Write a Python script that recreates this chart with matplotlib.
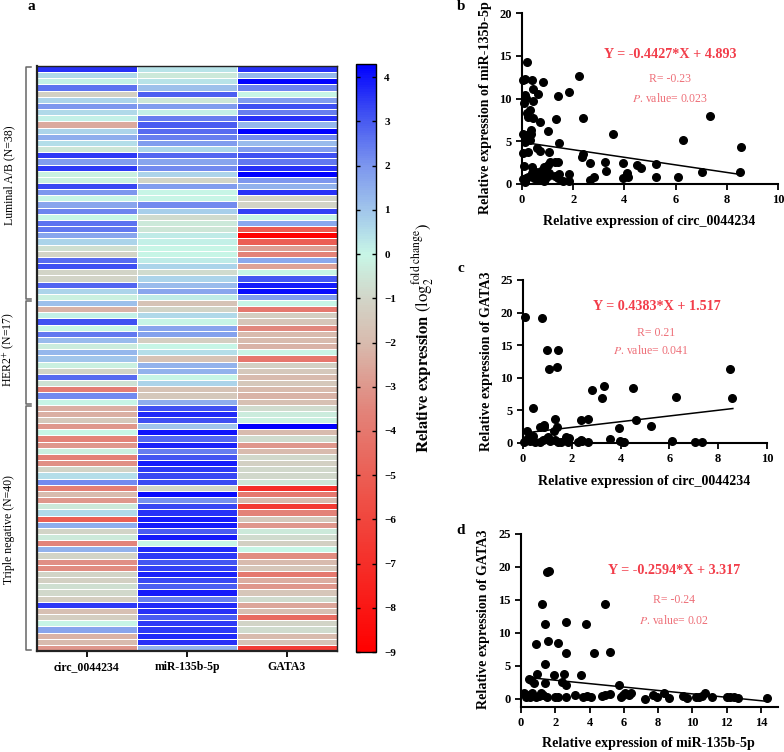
import numpy as np
import matplotlib
matplotlib.use('Agg')
import matplotlib.pyplot as plt
from matplotlib.colors import LinearSegmentedColormap

plt.rcParams['font.family'] = ['Liberation Serif', 'DejaVu Serif']
plt.rcParams['mathtext.fontset'] = 'stix'

# Heatmap values, top row first
genes = ['circ_0044234', 'miR-135b-5p', 'GATA3']
circ_vals = [3.6, 0.6, 0.1, 2.6, -1.2, 0.7, 2.0, 0.6, 0.1, -2.5, 0.7, 1.5, 0.5, -0.5, 3.5, 1.9, 3.5, -0.2, -0.2, 3.3,
             2.0, 0.0, 1.7, 2.3, 0.0, 2.6, 2.5, 1.7, 0.7, -0.7, -1.0, 2.7, 3.2, -1.0, -1.0, 2.8, 0.7, -0.2, 1.1, -2.2,
             0.1, 3.2, 0.0, 2.5, 1.2, -0.3, 1.3, 1.0, -0.2, -1.0, 2.7, -0.6, -3.8, 2.2, 0.0, -2.3, -2.3, -1.5, -3.0, 0.0,
             -3.6, -3.0, -0.2, -3.7, -3.2, -1.0, 0.5, 2.2, -3.8, -2.0, -3.0, -0.4, 0.6, -5.0, 1.5, -1.0, -0.4, -3.5, 1.4, -1.0,
             -3.2, -3.3, -1.0, -1.2, -0.7, -0.9, -1.3, 3.5, -1.8, -1.3, 0.0, 1.7, -2.2, -2.0, -3.0]
mir_vals = [0.4, -0.4, 0.4, 1.1, 2.9, -0.5, 1.9, 0.1, 2.4, 3.0, 2.7, 2.4, 1.9, 0.7, 2.8, 1.7, 2.2, 0.7, -1.0, 1.9,
            0.0, 0.0, 2.2, 0.8, -0.8, -0.4, -0.5, 0.2, 0.1, 0.0, 0.0, 0.2, 0.7, -0.8, 0.7, 1.2, 1.7, 0.2, -1.7, -1.0,
            0.6, 0.0, 1.7, 1.8, -1.3, 0.0, 0.5, -1.7, 1.4, 1.4, 0.0, 0.7, -1.7, -1.5, 1.5, 3.2, 3.7, 3.2, 1.0, 4.0,
            2.8, 3.8, 2.4, 3.1, 3.9, 3.5, 3.3, 3.3, -1.0, 4.1, 2.1, 3.3, 3.6, 3.9, 3.9, 3.0, 3.9, 0.0, 3.7, 3.5,
            3.1, 3.4, 3.8, 3.3, 2.9, 3.9, 2.4, 3.7, 3.6, 3.0, 3.5, 3.5, 3.7, 3.6, 1.4]
gata_vals = [3.6, 1.3, 4.2, 2.3, 0.0, 1.9, 3.2, 2.4, 3.6, 1.3, 4.3, 2.2, 1.2, 1.9, 3.2, 2.5, 3.6, 4.3, 2.0, 1.4,
             3.6, -1.0, -1.0, 3.4, 0.0, 1.6, -5.2, -9.0, -5.0, -2.8, -3.6, 1.6, -2.7, 0.0, 3.1, 3.9, 4.1, 1.9, 0.0, -4.0,
             -1.3, -1.6, -3.4, -2.0, -2.0, -2.2, -0.1, -4.1, -1.2, -1.5, -2.0, -1.5, -2.0, -2.2, -1.8, -0.8, -0.3, -0.2, 4.3, -2.0,
             -0.8, -3.0, -2.0, -0.9, -1.2, -0.9, -0.9, -0.5, -7.0, -4.0, -2.0, -6.5, -3.6, -1.5, -3.0, -0.4, -0.8, -1.2, 0.0, -3.3,
             -2.0, -1.6, -4.0, -2.4, -3.0, -1.6, -0.8, -2.6, -1.8, -4.5, -1.0, -0.8, -2.0, -1.7, -6.5]
group_names = ['Luminal A/B (N=38)', 'HER2$^{+}$ (N=17)', 'Triple negative (N=40)']
group_sizes = [38, 17, 40]
cbar_ticks = [4, 3, 2, 1, 0, -1, -2, -3, -4, -5, -6, -7, -8, -9]

# Scatter b: circ_0044234 vs miR-135b-5p
b_x = [0.05, 0.1, 0.2, 0.38, 0.42, 0.1, 0.15, 0.62, 0.82, 0.42, 0.07, 1.4, 1.85, 2.23, 0.3, 0.2, 0.25, 0.42, 0.7, 1.33,
       2.37, 7.35, 3.55, 6.27, 8.57, 1.03, 0.35, 0.05, 0.2, 0.35, 0.3, 0.1, 1.43, 0.6, 0.7, 0.05, 0.25, 1.05, 2.38, 2.35,
       2.65, 3.25, 3.95, 4.5, 4.65, 5.23, 0.07, 0.4, 0.85, 1.0, 1.1, 1.3, 1.42, 0.95, 0.75, 0.55, 0.4, 0.65, 0.85, 1.05,
       1.45, 1.85, 3.28, 4.1, 7.05, 8.5, 0.05, 0.15, 0.25, 0.45, 0.6, 0.9, 1.0, 1.3, 1.4, 1.6, 1.85, 2.65, 2.8, 3.95,
       4.15, 5.25, 6.1, 0.85, 0.1]
b_y = [12.2, 12.3, 14.3, 12.2, 11.1, 10.4, 10.1, 10.5, 11.9, 9.7, 9.5, 10.3, 10.8, 12.6, 8.6, 8.3, 7.8, 7.7, 7.2, 7.6,
       7.7, 7.9, 5.9, 5.1, 4.3, 6.2, 6.3, 5.8, 5.7, 5.8, 5.1, 4.9, 4.8, 4.2, 3.9, 3.6, 3.8, 3.7, 3.5, 3.1,
       2.5, 2.6, 2.5, 2.2, 1.9, 2.3, 2.1, 2.0, 2.0, 2.2, 2.6, 2.6, 2.6, 1.6, 1.5, 1.4, 1.3, 1.0, 1.2, 1.3,
       1.2, 1.2, 1.5, 1.3, 1.4, 1.4, 0.6, 0.7, 0.8, 0.7, 0.6, 0.6, 0.9, 0.9, 0.7, 0.3, 0.3, 0.5, 0.8, 0.7,
       0.8, 0.8, 0.85, 0.3, 0.2]

# Scatter c: circ_0044234 vs GATA3
c_x = [0.1, 0.77, 0.98, 1.43, 1.05, 1.4, 8.5, 8.57, 2.83, 3.3, 3.25, 4.5, 6.28, 0.4, 1.33, 2.38, 2.65, 3.95, 4.65, 5.23,
       0.7, 0.87, 0.87, 1.4, 1.25, 0.17, 0.05, 0.12, 0.2, 0.28, 0.35, 0.42, 0.5, 0.68, 0.8, 0.95, 1.02, 1.1, 1.3, 1.45,
       1.55, 1.75, 1.85, 1.9, 2.25, 2.38, 2.42, 2.68, 3.55, 3.98, 4.1, 4.15, 6.1, 7.05, 7.35]
c_y = [19.4, 19.2, 14.3, 14.3, 11.4, 11.6, 11.4, 6.9, 8.2, 8.8, 6.9, 8.5, 7.1, 5.3, 3.7, 3.6, 3.7, 2.3, 3.6, 2.6,
       2.5, 2.8, 2.4, 2.5, 1.9, 1.9, 0.2, 0.4, 0.7, 0.3, 0.5, 1.0, 0.2, 0.2, 0.4, 0.6, 0.9, 0.3, 0.5, 0.2,
       0.1, 0.9, 0.2, 0.8, 0.1, 0.5, 0.3, 0.2, 0.6, 0.3, 0.1, 0.2, 0.3, 0.15, 0.1]

# Scatter d: miR-135b-5p vs GATA3
d_x = [1.5, 1.65, 1.2, 4.88, 1.42, 2.63, 3.8, 1.58, 0.88, 2.15, 2.63, 4.28, 5.2, 1.38, 0.95, 1.9, 2.5, 3.52, 0.45, 0.6,
       0.75, 1.4, 2.4, 2.6, 5.7, 0.2, 0.3, 0.45, 0.55, 0.65, 0.85, 1.05, 1.15, 1.3, 1.5, 2.0, 2.15, 2.6, 3.15, 3.6,
       3.85, 4.1, 4.7, 4.9, 5.2, 5.85, 5.95, 6.05, 6.3, 6.4, 7.25, 7.7, 7.95, 8.35, 8.65, 9.45, 9.7, 10.2, 10.4, 10.55,
       10.75, 11.15, 12.0, 12.2, 12.45, 12.65, 14.35]
d_y = [19.2, 19.4, 14.3, 14.3, 11.4, 11.6, 11.4, 8.8, 8.3, 8.5, 6.9, 6.9, 7.1, 5.3, 3.7, 3.6, 3.7, 3.6, 3.0, 2.9,
       2.3, 2.4, 2.6, 2.0, 2.0, 0.8, 0.3, 0.6, 0.2, 0.9, 0.2, 0.4, 0.9, 0.5, 0.2, 0.3, 0.2, 0.2, 0.5, 0.2,
       0.4, 0.2, 0.4, 0.5, 0.7, 0.2, 0.5, 0.8, 0.5, 0.8, 0.0, 0.5, 0.2, 0.8, 0.1, 0.4, 0.1, 0.2, 0.2, 0.4,
       0.9, 0.3, 0.2, 0.3, 0.3, 0.1, 0.1]

W, H = 784, 752


def px_axes(left, top, right, bottom):
    return fig.add_axes([left / W, 1 - bottom / H, (right - left) / W, (bottom - top) / H])


fig = plt.figure(figsize=(W / 100, H / 100), dpi=100)

# Panel a - heatmap
cmap_nodes = [(-9, '#ff0000'), (-5.5, '#ee5248'), (-3.5, '#e2857b'), (-2, '#d8bbae'), (-1, '#d2d5c8'),
              (0, '#c8f6e6'), (0.7, '#acd4ea'), (2, '#7d97ee'), (3.2, '#3f50f2'), (4.3, '#0000ff')]
cmap = LinearSegmentedColormap.from_list('expr', [((v + 9) / 13.3, c) for v, c in cmap_nodes])

ax = px_axes(37, 66, 337, 651)
matrix = np.array([circ_vals, mir_vals, gata_vals]).T
mesh = ax.pcolormesh(matrix, cmap=cmap, vmin=-9, vmax=4.3, edgecolors='white', linewidth=0.55)
ax.set_xticks([0.5, 1.5, 2.5])
ax.set_xticklabels(genes, fontsize=8.5, fontweight='bold')
ax.set_yticks([])
ax.tick_params(axis='x', length=4.5, width=1.3, pad=3)
for s in ax.spines.values():
    s.set_linewidth(1.0)
    s.set_color('#222222')
ax.spines['left'].set_linewidth(1.6)
ax.spines['bottom'].set_linewidth(1.6)

# group brackets
start = 0
for name, size in zip(group_names, group_sizes):
    end = start + size
    ax.plot([-0.06, -0.11, -0.11, -0.06], [start + 0.15, start + 0.15, end - 0.15, end - 0.15],
            color='#666666', lw=1.1, clip_on=False)
    start = end
ax.set_xlim(0, 3)
ax.set_ylim(len(matrix), 0)
fig.text(9 / W, 1 - 175 / H, group_names[0], rotation=90, ha='center', va='center', fontsize=8.5)
fig.text(9 / W, 1 - 350 / H, group_names[1], rotation=90, ha='center', va='center', fontsize=8.5)
fig.text(9 / W, 1 - 530 / H, group_names[2], rotation=90, ha='center', va='center', fontsize=8.5)

# colorbar
cax = px_axes(356, 64, 376, 652)
cb = fig.colorbar(mesh, cax=cax)
cb.set_ticks(cbar_ticks)
cb.ax.tick_params(length=3, width=1.0, direction='in', left=True, right=True, labelsize=8, pad=6)
for lab in cb.ax.get_yticklabels():
    lab.set_fontweight('bold')
cb.outline.set_linewidth(1.0)
fig.text(423 / W, 1 - 338 / H, r'$\mathbf{Relative\ expression}$ $(\mathrm{log}_{2}^{\mathrm{fold\ change}})$',
         rotation=90, ha='center', va='center', fontsize=12)


# Panels b, c, d - scatter
def scatter_panel(box, x, y, slope, icpt, line_x, xmax, xstep, ylim, ystep):
    a = px_axes(*box)
    a.scatter(x, y, s=30, color='black', clip_on=False, zorder=3)
    lx = np.array(line_x)
    a.plot(lx, slope * lx + icpt, color='black', lw=1.1, zorder=2)
    a.set_xlim(0, xmax)
    a.set_ylim(*ylim)
    a.set_xticks(np.arange(0, xmax + 1, xstep))
    a.set_yticks(np.arange(0, ylim[1] + 1, ystep))
    a.spines['top'].set_visible(False)
    a.spines['right'].set_visible(False)
    a.spines['left'].set_linewidth(1.5)
    a.spines['bottom'].set_linewidth(1.5)
    a.tick_params(length=4.5, width=1.3, labelsize=9, pad=3)
    for lab in a.get_xticklabels() + a.get_yticklabels():
        lab.set_fontweight('bold')
    return a


scatter_panel((522, 13, 778, 184), b_x, b_y, -0.4427, 4.893, [0.35, 8.5], 10, 2, (0, 20), 5)
scatter_panel((523, 280, 767, 443), c_x, c_y, 0.4383, 1.517, [0.0, 8.6], 10, 2, (0, 25), 5)
scatter_panel((521, 534, 778, 707), d_x, d_y, -0.2594, 3.317, [0.5, 14.3], 15, 2, (-1.27, 25), 5)

# axis titles placed by hand
lab_kw = dict(fontsize=10.1, fontweight='bold', ha='center', va='center')
fig.text(649 / W, 1 - 221 / H, 'Relative expression of circ_0044234', **lab_kw)
fig.text(644 / W, 1 - 481 / H, 'Relative expression of circ_0044234', **lab_kw)
fig.text(648 / W, 1 - 744 / H, 'Relative expression of miR-135b-5p', **lab_kw)
fig.text(485 / W, 1 - 214 / H, 'Relative expression of miR-135b-5p', rotation=90, ha='center', va='bottom',
         fontsize=10.1, fontweight='bold')
fig.text(486 / W, 1 - 361 / H, 'Relative expression of GATA3', rotation=90, ha='center', va='center',
         fontsize=10.1, fontweight='bold')
fig.text(483 / W, 1 - 619 / H, 'Relative expression of GATA3', rotation=90, ha='center', va='center',
         fontsize=10.1, fontweight='bold')

# fit annotations
eq_kw = dict(color='#f23d4a', fontsize=10.2, fontweight='bold', ha='center', va='center')
stat_kw = dict(color='#ee6f78', fontsize=8.5, ha='center', va='center')
fig.text(670 / W, 1 - 55 / H, 'Y = -0.4427*X + 4.893', **eq_kw)
fig.text(670 / W, 1 - 79 / H, 'R= -0.23', **stat_kw)
fig.text(670 / W, 1 - 98 / H, r'$\mathit{P}$. value= 0.023', **stat_kw)
fig.text(657 / W, 1 - 307 / H, 'Y = 0.4383*X + 1.517', **eq_kw)
fig.text(656 / W, 1 - 333 / H, 'R= 0.21', **stat_kw)
fig.text(651 / W, 1 - 351 / H, r'$\mathit{P}$. value= 0.041', **stat_kw)
fig.text(674 / W, 1 - 571 / H, 'Y = -0.2594*X + 3.317', **eq_kw)
fig.text(674 / W, 1 - 600 / H, 'R= -0.24', **stat_kw)
fig.text(674 / W, 1 - 620 / H, r'$\mathit{P}$. value= 0.02', **stat_kw)

# panel letters
for letter, px, py in [('a', 31, 7), ('b', 461, 7), ('c', 461, 269), ('d', 461, 531)]:
    fig.text(px / W, 1 - py / H, letter, fontsize=11, fontweight='bold', ha='center', va='center')

fig.savefig('out.png', dpi=100)
